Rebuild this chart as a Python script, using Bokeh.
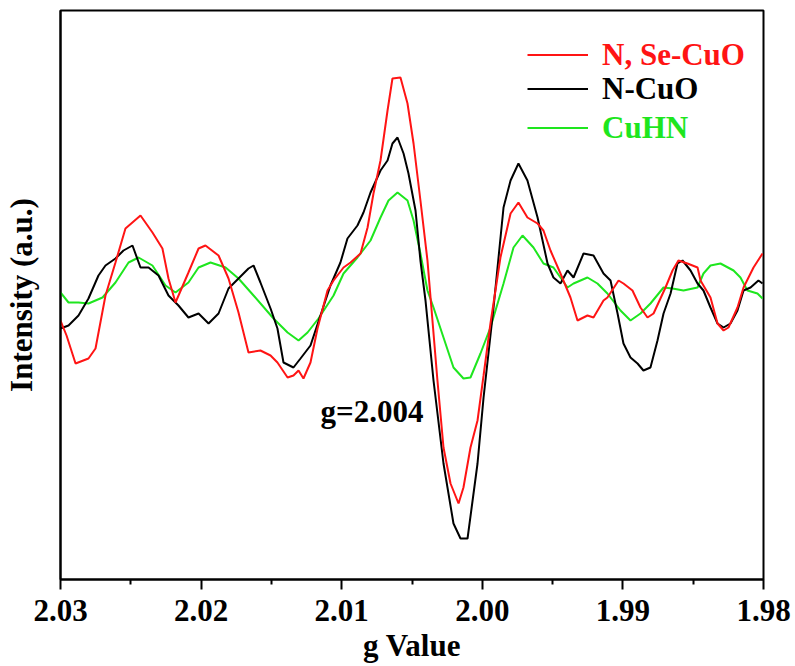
from bokeh.plotting import figure
from bokeh.models import Range1d, FixedTicker, Legend, LegendItem, Label, PrintfTickFormatter
from bokeh.embed import file_html
from bokeh.resources import INLINE

# ---------------- data (g value, intensity a.u.) ----------------
g_nse = [2.0300, 2.02957, 2.02893, 2.02801, 2.02751, 2.02680, 2.02609, 2.02538, 2.02431, 2.02346,
         2.02275, 2.02232, 2.02182, 2.02090, 2.02018, 2.01969, 2.01876, 2.01805, 2.01734, 2.01663,
         2.01578, 2.01506, 2.01457, 2.01385, 2.01343, 2.01307, 2.01272, 2.01222, 2.01172, 2.01101,
         2.01058, 2.00987, 2.00937, 2.00866, 2.00816, 2.00774, 2.00724, 2.00674, 2.00639, 2.00582,
         2.00532, 2.00489, 2.00440, 2.00390, 2.00319, 2.00276, 2.00226, 2.00169, 2.00134, 2.00084,
         2.00034, 1.99991, 1.99942, 1.99871, 1.99799, 1.99743, 1.99679, 1.99607, 1.99565, 1.99515,
         1.99444, 1.99373, 1.99323, 1.99252, 1.99209, 1.99138, 1.99110, 1.99031, 1.98996, 1.98932,
         1.98875, 1.98825, 1.98782, 1.98697, 1.98647, 1.98605, 1.98541, 1.98469, 1.98448, 1.98377,
         1.98327, 1.98284, 1.98249, 1.98185, 1.98142, 1.98071, 1.98007]
i_nse = [-30, -45, -73, -68, -58, -5, 28, 62, 75, 58,
         42, 12, -12, 18, 42, 45, 35, 12, -22, -62,
         -60, -65, -72, -87, -85, -80, -88, -72, -38, 0,
         10, 23, 28, 37, 63, 97, 130, 180, 212, 213,
         187, 147, 90, 30, -90, -157, -193, -213, -197, -157,
         -130, -85, -33, 33, 77, 88, 73, 67, 60, 40,
         17, -7, -30, -25, -27, -10, -7, 10, 7, 0,
         -17, -27, -23, 3, 20, 30, 27, 23, 10, -7,
         -33, -40, -37, -17, 3, 23, 37]

g_n = [2.0300, 2.02943, 2.02872, 2.02801, 2.02730, 2.02680, 2.02609, 2.02552, 2.02488, 2.02431,
       2.02374, 2.02303, 2.02232, 2.02161, 2.02090, 2.02018, 2.01947, 2.01876, 2.01805, 2.01734,
       2.01663, 2.01627, 2.01578, 2.01506, 2.01457, 2.01414, 2.01343, 2.01293, 2.01222, 2.01151,
       2.01080, 2.01009, 2.00959, 2.00888, 2.00845, 2.00795, 2.00724, 2.00674, 2.00639, 2.00603,
       2.00560, 2.00525, 2.00475, 2.00440, 2.00404, 2.00347, 2.00276, 2.00205, 2.00155, 2.00105,
       2.00034, 1.99991, 1.99920, 1.99849, 1.99799, 1.99743, 1.99679, 1.99607, 1.99536, 1.99494,
       1.99444, 1.99394, 1.99351, 1.99280, 1.99209, 1.99138, 1.99088, 1.99038, 1.98996, 1.98946,
       1.98896, 1.98854, 1.98804, 1.98754, 1.98711, 1.98661, 1.98612, 1.98576, 1.98519, 1.98469,
       1.98427, 1.98377, 1.98327, 1.98284, 1.98235, 1.98185, 1.98142, 1.98092, 1.98036, 1.98007]
i_n = [-38, -35, -25, -8, 15, 25, 32, 40, 45, 23,
       23, 15, -5, -15, -27, -23, -33, -23, 2, 12,
       22, 25, 8, -18, -38, -72, -77, -68, -55, -25,
       5, 28, 52, 65, 78, 98, 120, 130, 147, 153,
       137, 117, 80, 30, -10, -90, -173, -233, -248, -248,
       -173, -107, -17, 83, 110, 127, 110, 73, 27, 13,
       7, 20, 13, 37, 35, 17, 10, -23, -53, -67,
       -73, -80, -77, -50, -23, -3, 27, 30, 20, 7,
       0, -17, -33, -37, -33, -20, 0, 3, 10, 7]

g_cuhn = [2.0300, 2.02943, 2.02872, 2.02801, 2.02701, 2.02609, 2.02516, 2.02445, 2.02346, 2.02253,
          2.02182, 2.02090, 2.02018, 2.01933, 2.01826, 2.01734, 2.01627, 2.01485, 2.01385, 2.01307,
          2.01243, 2.01165, 2.01058, 2.00987, 2.00888, 2.00795, 2.00724, 2.00667, 2.00603, 2.00532,
          2.00489, 2.00440, 2.00390, 2.00347, 2.00276, 2.00205, 2.00134, 2.00084, 2.00013, 1.99942,
          1.99849, 1.99778, 1.99714, 1.99636, 1.99565, 1.99494, 1.99394, 1.99351, 1.99252, 1.99181,
          1.99110, 1.99017, 1.98946, 1.98875, 1.98804, 1.98711, 1.98647, 1.98569, 1.98469, 1.98427,
          1.98377, 1.98306, 1.98213, 1.98164, 1.98114, 1.98043, 1.98007]
i_cuhn = [-2, -12, -12, -13, -7, 8, 28, 33, 25, 5,
          -2, 8, 23, 28, 23, 12, -5, -28, -42, -50,
          -42, -28, -5, 17, 33, 50, 73, 90, 98, 90,
          70, 37, 0, -17, -47, -77, -88, -87, -63, -37,
          7, 43, 55, 43, 27, 23, 3, 7, 13, 7,
          -3, -20, -30, -23, -13, 3, 2, 0, 3, 17,
          25, 27, 20, 13, 0, -3, -8]

series_labels = ["N, Se-CuO", "N-CuO", "CuHN"]
series_colors = ["#ff1414", "#000000", "#1ee61e"]

x_ticks = [2.03, 2.02, 2.01, 2.00, 1.99, 1.98]
x_tick_labels = ["2.03", "2.02", "2.01", "2.00", "1.99", "1.98"]
x_minor_ticks = [2.025, 2.015, 2.005, 1.995, 1.985]

annotation_text = "g=2.004"
annotation_g = 2.0115
annotation_i = -121

FONT = "Liberation Serif"
FS = "31px"

p = figure(width=795, height=666, output_backend="svg", toolbar_location=None,
           x_range=Range1d(2.03, 1.98), y_range=Range1d(-289, 280),
           min_border_left=60, min_border_right=32, min_border_top=10, min_border_bottom=87)
p.grid.visible = False
p.background_fill_color = "white"
p.border_fill_color = "white"
p.outline_line_color = "black"
p.outline_line_width = 2
p.outline_line_alpha = 1

xa = p.xaxis[0]
xa.ticker = FixedTicker(ticks=x_ticks, minor_ticks=x_minor_ticks)
xa.formatter = PrintfTickFormatter(format="%.2f")
xa.major_label_overrides = {t: l for t, l in zip(x_ticks, x_tick_labels)}
xa.axis_line_width = 2
xa.major_tick_line_width = 2
xa.minor_tick_line_width = 2
xa.major_tick_out = 10
xa.major_tick_in = 0
xa.minor_tick_out = 5
xa.minor_tick_in = 0
xa.major_label_standoff = 10
xa.major_label_text_font = FONT
xa.major_label_text_font_style = "bold"
xa.major_label_text_font_size = FS
xa.major_label_text_color = "black"
xa.axis_label = "g Value"
xa.axis_label_text_font = FONT
xa.axis_label_text_font_style = "bold"
xa.axis_label_text_font_size = FS
xa.axis_label_text_color = "black"
xa.axis_label_standoff = 4

ya = p.yaxis[0]
ya.ticker = FixedTicker(ticks=[])
ya.axis_line_width = 2
ya.major_tick_line_color = None
ya.minor_tick_line_color = None
ya.axis_label = "Intensity (a.u.)"
ya.axis_label_text_font = FONT
ya.axis_label_text_font_style = "bold"
ya.axis_label_text_font_size = FS
ya.axis_label_text_color = "black"
ya.axis_label_standoff = 22

r_cuhn = p.line(g_cuhn, i_cuhn, line_color=series_colors[2], line_width=2)
r_n = p.line(g_n, i_n, line_color=series_colors[1], line_width=2)
r_nse = p.line(g_nse, i_nse, line_color=series_colors[0], line_width=2)

renderers = [r_nse, r_n, r_cuhn]
legend_offsets = [506, 472, 433]
for r, lbl, col, vy in zip(renderers, series_labels, series_colors, legend_offsets):
    leg = Legend(items=[LegendItem(label=lbl, renderers=[r])], location=(467, vy),
                 border_line_color=None, background_fill_alpha=0, padding=0, margin=0,
                 spacing=0, glyph_width=61, glyph_height=37, label_height=37,
                 label_standoff=14, label_text_font=FONT, label_text_font_style="bold",
                 label_text_font_size=FS, label_text_color=col)
    p.add_layout(leg)

p.add_layout(Label(x=annotation_g, y=annotation_i, text=annotation_text,
                   text_font=FONT, text_font_style="bold", text_font_size=FS,
                   text_color="black", text_baseline="alphabetic"))

open("out.html", "w").write(file_html(p, INLINE))
